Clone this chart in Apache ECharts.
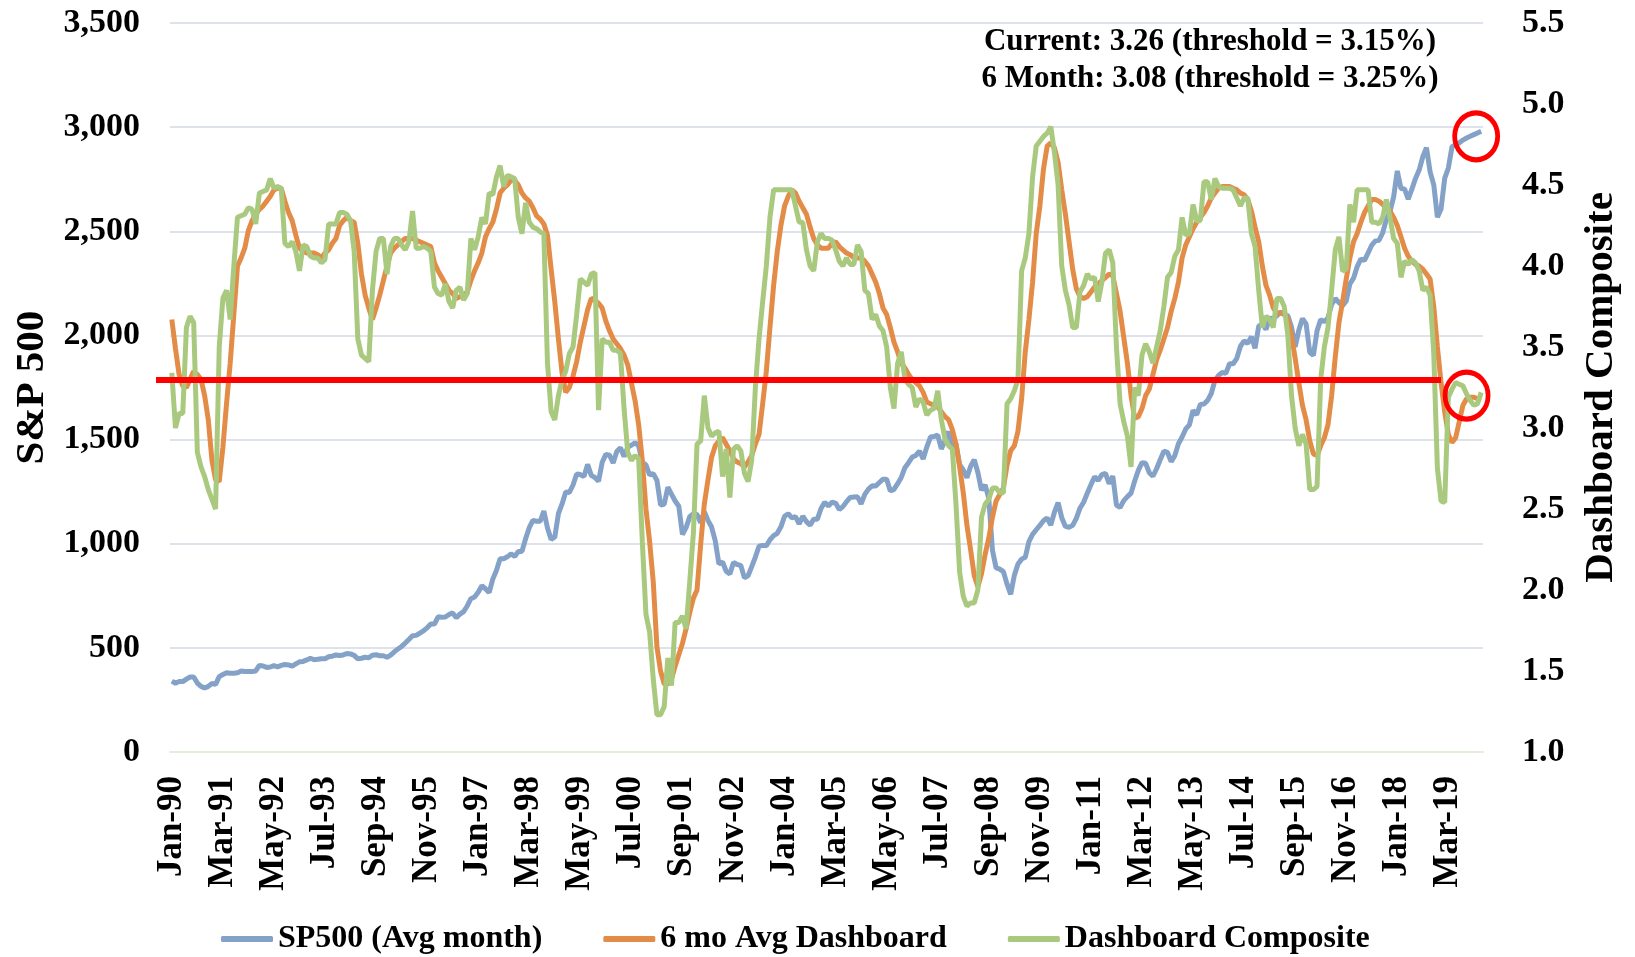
<!DOCTYPE html>
<html>
<head>
<meta charset="utf-8">
<title>S&P 500 vs Dashboard Composite</title>
<script src="https://cdn.jsdelivr.net/npm/echarts@6/dist/echarts.min.js"></script>
<style>
  html, body { margin: 0; padding: 0; background: #fff; }
  #chart { width: 1635px; height: 957px; }
</style>
</head>
<body>
<div id="chart"></div>
<script>
// monthly categories Jan-90 .. Dec-19
const monthNames = ['Jan', 'Feb', 'Mar', 'Apr', 'May', 'Jun', 'Jul', 'Aug', 'Sep', 'Oct', 'Nov', 'Dec']
const firstYear = 1990
const lastYear = 2019
const categories = []
for (let y = firstYear; y <= lastYear; y++) {
  monthNames.forEach(m => categories.push(m + '-' + String(y).slice(2)))
}

// S&P 500, monthly average (left axis)
const sp500 = [
  340, 330, 338, 338, 350, 360, 360, 331, 315, 307, 315, 329,
  325, 362, 372, 380, 378, 378, 380, 389, 387, 387, 386, 389,
  416, 413, 406, 408, 415, 409, 416, 420, 418, 412, 423, 433,
  435, 442, 450, 443, 445, 448, 448, 457, 460, 466, 463, 466,
  473, 471, 464, 447, 450, 455, 452, 465, 467, 462, 462, 455,
  465, 481, 494, 507, 523, 540, 558, 560, 571, 582, 596, 614,
  614, 649, 647, 648, 660, 668, 644, 662, 674, 701, 736, 744,
  767, 798, 784, 765, 830, 871, 928, 928, 937, 951, 939, 963,
  963, 1024, 1077, 1112, 1108, 1108, 1157, 1075, 1020, 1032, 1145, 1191,
  1249, 1246, 1282, 1335, 1332, 1322, 1381, 1328, 1318, 1300, 1391, 1429,
  1425, 1388, 1443, 1461, 1419, 1462, 1473, 1485, 1469, 1390, 1379, 1331,
  1336, 1305, 1186, 1189, 1271, 1238, 1205, 1180, 1044, 1077, 1130, 1144,
  1140, 1101, 1154, 1112, 1080, 1014, 903, 912, 868, 855, 910, 900,
  896, 837, 846, 890, 936, 988, 992, 990, 1019, 1039, 1050, 1081,
  1132, 1144, 1124, 1130, 1095, 1132, 1106, 1089, 1118, 1118, 1169, 1199,
  1181, 1199, 1195, 1164, 1178, 1202, 1222, 1224, 1225, 1192, 1237, 1262,
  1278, 1277, 1294, 1310, 1310, 1253, 1261, 1288, 1318, 1365, 1389, 1416,
  1424, 1445, 1407, 1464, 1512, 1515, 1521, 1455, 1497, 1539, 1463, 1480,
  1379, 1354, 1317, 1371, 1404, 1342, 1257, 1282, 1218, 969, 884, 878,
  866, 806, 757, 848, 903, 926, 935, 1010, 1045, 1067, 1088, 1110,
  1124, 1089, 1152, 1197, 1125, 1083, 1079, 1088, 1122, 1171, 1199, 1242,
  1283, 1321, 1304, 1332, 1338, 1288, 1325, 1185, 1174, 1207, 1226, 1243,
  1301, 1352, 1389, 1386, 1341, 1324, 1360, 1403, 1444, 1438, 1394, 1423,
  1480, 1512, 1551, 1571, 1640, 1619, 1669, 1671, 1688, 1721, 1784, 1808,
  1822, 1818, 1864, 1864, 1890, 1948, 1974, 1962, 1994, 1938, 2045, 2055,
  2029, 2083, 2081, 2094, 2112, 2100, 2095, 2040, 1945, 2025, 2081, 2055,
  1919, 1904, 2022, 2076, 2066, 2084, 2149, 2177, 2158, 2143, 2165, 2247,
  2275, 2330, 2366, 2360, 2396, 2434, 2454, 2457, 2493, 2557, 2594, 2665,
  2790, 2705, 2703, 2654, 2702, 2754, 2794, 2858, 2902, 2785, 2723, 2567,
  2607, 2754, 2804, 2906, 2915, 2925, 2938, 2948, 2956, 2964, 2972, 2980
]

// 6 month average of the dashboard (right axis)
const dashAvg6 = [
  3.67, 3.49, 3.33, 3.26, 3.25, 3.30, 3.35, 3.33, 3.30, 3.20, 3.05, 2.80,
  2.68, 2.67, 2.88, 3.15, 3.40, 3.70, 4.00, 4.05, 4.11, 4.22, 4.28, 4.32,
  4.35, 4.37, 4.40, 4.43, 4.47, 4.48, 4.48, 4.40, 4.33, 4.28, 4.19, 4.11,
  4.09, 4.08, 4.08, 4.08, 4.07, 4.05, 4.08, 4.10, 4.14, 4.17, 4.25, 4.28,
  4.30, 4.28, 4.27, 4.14, 3.95, 3.82, 3.74, 3.67, 3.74, 3.82, 3.91, 4.00,
  4.08, 4.11, 4.13, 4.15, 4.17, 4.17, 4.17, 4.16, 4.15, 4.14, 4.13, 4.12,
  4.02, 3.97, 3.93, 3.89, 3.85, 3.83, 3.80, 3.81, 3.82, 3.84, 3.91, 3.97,
  4.02, 4.08, 4.18, 4.23, 4.27, 4.35, 4.45, 4.48, 4.50, 4.53, 4.53, 4.50,
  4.45, 4.42, 4.40, 4.36, 4.31, 4.29, 4.26, 4.19, 3.98, 3.78, 3.55, 3.34,
  3.22, 3.25, 3.32, 3.41, 3.53, 3.63, 3.73, 3.80, 3.79, 3.77, 3.74, 3.66,
  3.60, 3.55, 3.52, 3.49, 3.45, 3.39, 3.28, 3.17, 3.02, 2.80, 2.50, 2.30,
  2.05, 1.65, 1.50, 1.42, 1.42, 1.45, 1.53, 1.60, 1.67, 1.76, 1.86, 1.95,
  2.00, 2.28, 2.53, 2.68, 2.82, 2.89, 2.92, 2.94, 2.90, 2.86, 2.81, 2.79,
  2.78, 2.76, 2.79, 2.83, 2.90, 2.96, 3.15, 3.35, 3.62, 3.88, 4.09, 4.25,
  4.37, 4.43, 4.47, 4.45, 4.40, 4.36, 4.32, 4.24, 4.17, 4.13, 4.11, 4.11,
  4.11, 4.14, 4.15, 4.12, 4.10, 4.08, 4.07, 4.05, 4.05, 4.05, 4.03, 4.00,
  3.95, 3.90, 3.83, 3.74, 3.70, 3.62, 3.53, 3.47, 3.40, 3.37, 3.33, 3.30,
  3.28, 3.26, 3.22, 3.16, 3.15, 3.14, 3.13, 3.10, 3.07, 3.05, 2.99, 2.90,
  2.76, 2.60, 2.40, 2.25, 2.09, 2.02, 2.10, 2.22, 2.32, 2.45, 2.55, 2.59,
  2.63, 2.77, 2.86, 2.89, 2.98, 3.18, 3.47, 3.67, 3.90, 4.20, 4.37, 4.60,
  4.74, 4.76, 4.73, 4.64, 4.47, 4.32, 4.15, 3.98, 3.86, 3.81, 3.80, 3.81,
  3.84, 3.87, 3.89, 3.91, 3.93, 3.95, 3.94, 3.83, 3.72, 3.56, 3.40, 3.20,
  3.06, 3.07, 3.12, 3.20, 3.24, 3.33, 3.42, 3.48, 3.55, 3.62, 3.72, 3.80,
  3.90, 4.05, 4.13, 4.18, 4.23, 4.27, 4.30, 4.33, 4.37, 4.42, 4.45, 4.48,
  4.49, 4.49, 4.49, 4.48, 4.47, 4.45, 4.44, 4.41, 4.34, 4.24, 4.15, 4.00,
  3.88, 3.82, 3.74, 3.71, 3.71, 3.71, 3.67, 3.57, 3.43, 3.28, 3.14, 3.05,
  2.92, 2.84, 2.83, 2.89, 2.94, 3.02, 3.20, 3.44, 3.65, 3.78, 3.92, 4.05,
  4.15, 4.20, 4.27, 4.33, 4.37, 4.41, 4.41, 4.40, 4.38, 4.36, 4.34, 4.30,
  4.25, 4.18, 4.11, 4.06, 4.03, 4.01, 4.00, 3.98, 3.95, 3.92, 3.75, 3.50,
  3.28, 3.10, 2.96, 2.91, 2.94, 3.04, 3.14, 3.18, 3.19, 3.19, 3.18, 3.18
]

// dashboard composite (right axis)
const dashComposite = [
  3.34, 3.00, 3.09, 3.09, 3.62, 3.69, 3.65, 2.85, 2.76, 2.70, 2.62, 2.56,
  2.50, 3.50, 3.80, 3.85, 3.67, 4.00, 4.30, 4.31, 4.32, 4.36, 4.35, 4.26,
  4.45, 4.46, 4.47, 4.54, 4.48, 4.49, 4.48, 4.14, 4.12, 4.15, 4.09, 3.97,
  4.13, 4.12, 4.06, 4.05, 4.05, 4.02, 4.04, 4.26, 4.26, 4.26, 4.33, 4.33,
  4.32, 4.28, 4.09, 3.55, 3.45, 3.43, 3.41, 3.85, 4.09, 4.17, 4.17, 3.95,
  4.12, 4.17, 4.17, 4.13, 4.10, 4.15, 4.34, 4.11, 4.11, 4.12, 4.11, 4.09,
  3.87, 3.83, 3.82, 3.89, 3.78, 3.74, 3.85, 3.87, 3.79, 3.83, 4.17, 4.10,
  4.18, 4.30, 4.26, 4.45, 4.44, 4.55, 4.62, 4.49, 4.56, 4.55, 4.54, 4.30,
  4.20, 4.39, 4.27, 4.24, 4.23, 4.21, 4.20, 3.40, 3.10, 3.05, 3.20, 3.30,
  3.35, 3.46, 3.50, 3.70, 3.92, 3.90, 3.88, 3.95, 3.96, 3.11, 3.55, 3.53,
  3.53, 3.48, 3.48, 3.46, 3.12, 2.85, 2.80, 2.83, 2.81, 2.30, 1.85, 1.74,
  1.45, 1.23, 1.23, 1.28, 1.58, 1.41, 1.80, 1.80, 1.84, 1.76, 2.05, 2.35,
  2.90, 2.92, 3.20, 3.00, 2.95, 2.97, 2.98, 2.70, 2.87, 2.57, 2.87, 2.89,
  2.86, 2.72, 2.67, 2.80, 3.25, 3.55, 3.78, 4.00, 4.30, 4.47, 4.47, 4.47,
  4.47, 4.47, 4.47, 4.37, 4.27, 4.27, 4.10, 4.00, 3.97, 4.15, 4.20, 4.17,
  4.17, 4.16, 4.10, 4.03, 4.00, 4.05, 4.01, 4.01, 4.13, 4.09, 3.85, 3.83,
  3.67, 3.70, 3.63, 3.60, 3.50, 3.25, 3.12, 3.40, 3.47, 3.30, 3.27, 3.25,
  3.13, 3.18, 3.16, 3.08, 3.11, 3.12, 3.23, 3.05, 2.93, 2.89, 2.87, 2.53,
  2.11, 1.96, 1.90, 1.92, 1.92, 2.00, 2.45, 2.53, 2.56, 2.63, 2.63, 2.60,
  2.60, 3.15, 3.18, 3.23, 3.30, 3.97, 4.05, 4.20, 4.55, 4.74, 4.77, 4.80,
  4.82, 4.86, 4.70, 4.50, 4.00, 3.85, 3.76, 3.62, 3.62, 3.84, 3.88, 3.95,
  3.92, 3.93, 3.78, 3.90, 4.08, 4.10, 4.02, 3.50, 3.15, 3.04, 2.95, 2.76,
  3.25, 3.20, 3.45, 3.52, 3.47, 3.40, 3.50, 3.60, 3.75, 3.93, 3.96, 4.06,
  4.10, 4.30, 4.19, 4.20, 4.38, 4.28, 4.28, 4.52, 4.52, 4.41, 4.54, 4.49,
  4.48, 4.48, 4.48, 4.47, 4.42, 4.37, 4.42, 4.42, 4.20, 4.12, 3.85, 3.62,
  3.69, 3.67, 3.62, 3.80, 3.80, 3.75, 3.57, 3.20, 3.00, 2.89, 2.96, 2.90,
  2.62, 2.62, 2.64, 3.30, 3.50, 3.62, 3.85, 4.10, 4.18, 3.97, 3.98, 4.38,
  4.27, 4.47, 4.47, 4.47, 4.47, 4.27, 4.27, 4.26, 4.30, 4.41, 4.30, 4.17,
  4.14, 3.93, 4.03, 4.01, 4.04, 4.02, 3.97, 3.85, 3.87, 3.82, 3.46, 2.75,
  2.55, 2.54, 3.19, 3.24, 3.28, 3.27, 3.26, 3.21, 3.17, 3.14, 3.15, 3.22
]

const threshold = 3.3
const thresholdEnd = 'Jan-19'
const circleAt = 'Aug-19'
const annotation = [
  'Current: 3.26 (threshold = 3.15%)',
  '6 Month: 3.08 (threshold = 3.25%)'
]

const FONT = '"Liberation Serif", "Times New Roman", serif'
const BLUE = '#84A2C8'
const ORANGE = '#E38C47'
const GREEN = '#A9C97F'
const RED = '#FF0000'

const chart = echarts.init(document.getElementById('chart'))

const ringStyle = {
  color: 'rgba(0,0,0,0)',
  borderColor: RED,
  borderWidth: 5
}

const option = {
  animation: false,
  backgroundColor: '#fff',
  grid: {
    left: 170,
    right: 152,
    top: 23,
    bottom: 205
  },
  legend: {
    left: 221,
    top: 923,
    padding: 0,
    icon: 'roundRect',
    itemWidth: 52,
    itemHeight: 6,
    itemGap: 61,
    textStyle: {
      fontFamily: FONT,
      fontWeight: 'bold',
      fontSize: 32,
      color: '#000'
    },
    data: ['SP500 (Avg month)', '6 mo Avg Dashboard', 'Dashboard Composite']
  },
  graphic: [
    {
      type: 'text',
      x: 1210,
      y: 23,
      style: {
        text: annotation.join('\n'),
        font: 'bold 31px ' + FONT,
        fill: '#000',
        align: 'center',
        lineHeight: 37
      }
    }
  ],
  xAxis: {
    type: 'category',
    data: categories,
    boundaryGap: true,
    axisLine: {
      lineStyle: { color: '#E2EFDA', width: 2 }
    },
    axisTick: { show: false },
    axisLabel: {
      interval: 13,
      rotate: 90,
      margin: 24,
      fontFamily: FONT,
      fontWeight: 'bold',
      fontSize: 35,
      color: '#000'
    },
    splitLine: { show: false }
  },
  yAxis: [
    {
      type: 'value',
      position: 'left',
      min: 0,
      max: 3500,
      interval: 500,
      name: 'S&P 500',
      nameLocation: 'middle',
      nameRotate: 90,
      nameGap: 116,
      nameTextStyle: {
        fontFamily: FONT,
        fontWeight: 'bold',
        fontSize: 41,
        color: '#000'
      },
      axisLine: { show: false },
      axisTick: { show: false },
      axisLabel: {
        margin: 30,
        fontFamily: FONT,
        fontWeight: 'bold',
        fontSize: 34,
        color: '#000',
        formatter: v => v.toLocaleString('en-US')
      },
      splitLine: {
        lineStyle: { color: '#DEE2EA', width: 2 }
      }
    },
    {
      type: 'value',
      position: 'right',
      min: 1,
      max: 5.5,
      interval: 0.5,
      name: 'Dashboard Composite',
      nameLocation: 'middle',
      nameRotate: 90,
      nameGap: 98,
      nameTextStyle: {
        fontFamily: FONT,
        fontWeight: 'bold',
        fontSize: 41,
        color: '#000'
      },
      axisLine: { show: false },
      axisTick: { show: false },
      axisLabel: {
        margin: 39,
        fontFamily: FONT,
        fontWeight: 'bold',
        fontSize: 34,
        color: '#000',
        formatter: v => v.toFixed(1)
      },
      splitLine: { show: false }
    }
  ],
  series: [
    {
      name: 'SP500 (Avg month)',
      type: 'line',
      yAxisIndex: 0,
      data: sp500,
      symbol: 'none',
      color: BLUE,
      lineStyle: { color: BLUE, width: 5 },
      emphasis: { disabled: true },
      markPoint: {
        symbol: 'circle',
        symbolSize: [43, 47],
        symbolOffset: [-5, 5],
        silent: true,
        itemStyle: ringStyle,
        label: { show: false },
        data: [{ coord: [categories[categories.length - 1], sp500[sp500.length - 1]] }]
      }
    },
    {
      name: '6 mo Avg Dashboard',
      type: 'line',
      yAxisIndex: 1,
      data: dashAvg6,
      symbol: 'none',
      color: ORANGE,
      lineStyle: { color: ORANGE, width: 5 },
      emphasis: { disabled: true }
    },
    {
      name: 'Dashboard Composite',
      type: 'line',
      yAxisIndex: 1,
      data: dashComposite,
      symbol: 'none',
      color: GREEN,
      lineStyle: { color: GREEN, width: 5 },
      emphasis: { disabled: true },
      markLine: {
        symbol: ['none', 'none'],
        silent: true,
        label: { show: false },
        lineStyle: { color: RED, width: 6, type: 'solid' },
        emphasis: { disabled: true },
        data: [[
          { coord: [categories[0], threshold], x: 156 },
          { coord: [thresholdEnd, threshold] }
        ]]
      },
      markPoint: {
        symbol: 'circle',
        symbolSize: [43, 47],
        silent: true,
        itemStyle: ringStyle,
        label: { show: false },
        data: [{ coord: [circleAt, 3.2] }]
      }
    }
  ]
}

chart.setOption(option)
</script>
</body>
</html>
